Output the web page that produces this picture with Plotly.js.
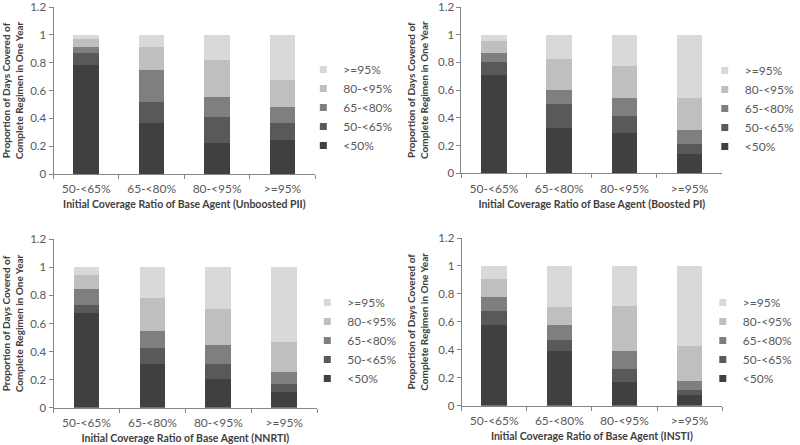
<!DOCTYPE html>
<html>
<head>
<meta charset="utf-8">
<script src="https://cdn.plot.ly/plotly-3.0.1.min.js"></script>
<style>
html,body{margin:0;padding:0;background:#fff;}
#chart{width:800px;height:445px;}
</style>
</head>
<body>
<div id="chart"></div>
<script>
// Categories (x axis) and series (stack segments)
const categories = ["50-<65%", "65-<80%", "80-<95%", ">=95%"];
const seriesNames = ["<50%", "50-<65%", "65-<80%", "80-<95%", ">=95%"];
const seriesColors = ["#404040", "#595959", "#7f7f7f", "#bfbfbf", "#d9d9d9"];
const yTickValues = [0, 0.2, 0.4, 0.6, 0.8, 1, 1.2];
const yTickLabels = ["0", "0.2", "0.4", "0.6", "0.8", "1", "1.2"];

// Panel values: one list per series (order as seriesNames), across categories
const unboostedPII = [
  [0.785, 0.365, 0.22, 0.245],
  [0.085, 0.15, 0.19, 0.12],
  [0.045, 0.23, 0.145, 0.115],
  [0.055, 0.165, 0.265, 0.195],
  [0.03, 0.09, 0.18, 0.325]
];
const boostedPI = [
  [0.71, 0.33, 0.29, 0.14],
  [0.09, 0.17, 0.125, 0.075],
  [0.07, 0.10, 0.13, 0.095],
  [0.085, 0.225, 0.23, 0.235],
  [0.045, 0.175, 0.225, 0.455]
];
const nnrti = [
  [0.675, 0.315, 0.205, 0.11],
  [0.06, 0.11, 0.11, 0.06],
  [0.11, 0.125, 0.13, 0.085],
  [0.10, 0.23, 0.255, 0.21],
  [0.055, 0.22, 0.30, 0.535]
];
const insti = [
  [0.58, 0.395, 0.17, 0.075],
  [0.10, 0.075, 0.09, 0.04],
  [0.10, 0.11, 0.13, 0.065],
  [0.125, 0.125, 0.325, 0.245],
  [0.095, 0.295, 0.285, 0.575]
];
const yTitle = "Proportion of Days Covered of<br>Complete Regimen in One Year";
const xTitles = [
  "Initial Coverage Ratio of Base Agent (Unboosted PII)",
  "Initial Coverage Ratio of Base Agent (Boosted PI)",
  "Initial Coverage Ratio of Base Agent (NNRTI)",
  "Initial Coverage Ratio of Base Agent (INSTI)"
];
const panels = [unboostedPII, boostedPI, nnrti, insti];

const W = 800, H = 445;
// pixel boxes: [left, right, bottom(y of 0), top(y of 1.2)]
const boxes = [
  [54, 318, 174, 7],
  [465.5, 728.5, 173.3, 7],
  [54, 320, 407.7, 239.3],
  [465.7, 728.5, 405.7, 238]
];
const legendPos = [
  [306, 55], [711, 56], [310, 288], [709, 288]
];

const font = "Lato, 'Open Sans', sans-serif";
const traces = [];
const layout = {
  width: W, height: H,
  margin: {l: 0, r: 0, t: 0, b: 0},
  paper_bgcolor: "#fff", plot_bgcolor: "#fff",
  barmode: "stack",
  bargap: 0.61,
  showlegend: true,
  font: {family: font, size: 11, color: "#595959"}
};

panels.forEach((panel, p) => {
  const n = p + 1;
  const xa = n === 1 ? "x" : "x" + n;
  const ya = n === 1 ? "y" : "y" + n;
  const lg = n === 1 ? "legend" : "legend" + n;
  panel.forEach((vals, s) => {
    traces.push({
      type: "bar",
      x: categories,
      y: vals,
      name: seriesNames[s],
      xaxis: xa, yaxis: ya,
      showlegend: false,
      marker: {color: seriesColors[s], line: {width: 0}},
      hoverinfo: "x+y+name"
    });
  });
  // legend entries (small square swatches, no plotted marks)
  seriesNames.forEach((nm, s) => {
    traces.push({
      type: "scatter", mode: "markers",
      x: [null], y: [null],
      name: nm,
      xaxis: xa, yaxis: ya,
      legend: lg,
      showlegend: true,
      marker: {symbol: "square", size: 7, color: seriesColors[s]}
    });
  });
  const b = boxes[p];
  layout[n === 1 ? "xaxis" : "xaxis" + n] = {
    domain: [b[0] / W, b[1] / W],
    anchor: ya,
    type: "category",
    showline: true, linecolor: "#868686", linewidth: 1,
    ticks: "outside", ticklen: 4, tickcolor: "#868686",
    tickson: "boundaries",
    ticklabelstandoff: 4,
    showgrid: false, zeroline: false,
    tickfont: {family: font, size: 12, color: "#595959"},
    title: {text: xTitles[p], font: {family: font, size: 10.5, color: "#404040", weight: "bold"}, standoff: 5}
  };
  layout[n === 1 ? "yaxis" : "yaxis" + n] = {
    domain: [1 - b[2] / H, 1 - b[3] / H],
    anchor: xa,
    range: [0, 1.2],
    tickmode: "array", tickvals: yTickValues, ticktext: yTickLabels,
    ticklabeloverflow: "allow",
    showline: true, linecolor: "#868686", linewidth: 1,
    ticks: "outside", ticklen: 4, tickcolor: "#868686",
    showgrid: false, zeroline: false,
    tickfont: {family: font, size: 11.5, color: "#595959"},
    title: {text: yTitle, font: {family: font, size: 10, color: "#404040", weight: "bold"}, standoff: 7}
  };
  const lp = legendPos[p];
  layout[lg] = {
    x: lp[0] / W, y: 1 - lp[1] / H,
    xanchor: "left", yanchor: "top",
    traceorder: "reversed",
    itemwidth: 30,
    bgcolor: "rgba(0,0,0,0)",
    font: {family: font, size: 12, color: "#595959"}
  };
});

Plotly.newPlot("chart", traces, layout, {displayModeBar: false, staticPlot: true});
</script>
</body>
</html>
